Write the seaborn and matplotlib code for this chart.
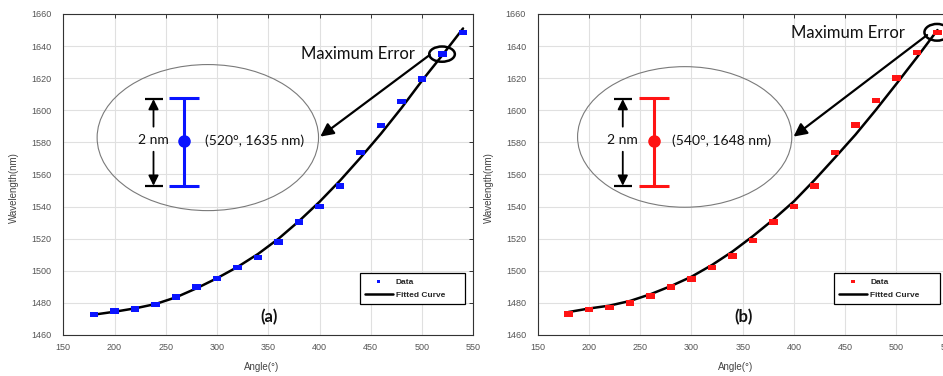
import numpy as np
import pandas as pd
import matplotlib
matplotlib.use("Agg")
import matplotlib.pyplot as plt
from matplotlib.patches import Ellipse
from matplotlib.markers import MarkerStyle
import seaborn as sns

# ---------------- data ----------------
angles = [180, 200, 220, 240, 260, 280, 300, 320, 340, 360,
          380, 400, 420, 440, 460, 480, 500, 520, 540]
wavelength_a = [1472.8, 1475.0, 1476.2, 1479.1, 1483.7, 1490.0, 1495.1, 1502.0, 1508.4, 1518.0,
                1530.4, 1540.0, 1552.8, 1573.6, 1590.4, 1605.4, 1619.6, 1635.2, 1648.4]
wavelength_b = [1473.0, 1476.0, 1477.0, 1480.0, 1484.2, 1490.0, 1495.0, 1502.0, 1509.2, 1519.0,
                1530.4, 1540.0, 1553.0, 1573.6, 1591.0, 1606.0, 1620.0, 1636.0, 1648.4]
fit_a = [1472.7, 1474.5, 1476.6, 1479.3, 1483.5, 1489.1, 1495.4, 1502.4, 1510.5, 1520.0,
         1531.0, 1543.0, 1556.2, 1570.5, 1585.5, 1601.5, 1618.5, 1634.5, 1651.0]
fit_b = [1474.3, 1476.5, 1478.3, 1481.2, 1485.4, 1490.5, 1496.3, 1503.6, 1512.0, 1521.6,
         1532.0, 1543.3, 1556.5, 1570.5, 1584.8, 1600.3, 1616.5, 1633.0, 1650.0]
x_ticks = [150, 200, 250, 300, 350, 400, 450, 500, 550]
y_ticks = [1460, 1480, 1500, 1520, 1540, 1560, 1580, 1600, 1620, 1640, 1660]
panel_labels = ["(a)", "(b)"]
point_texts = ["(520°, 1635 nm)", "(540°, 1648 nm)"]
colors = ["#0a14ff", "#ff1414"]

# ---------------- layout (annotation geometry, data coords) ----------------
layouts = [
    dict(ell=(291, 1583, 216, 91), ebx=268, arrx=238, txtx=288,
         circ=(519.5, 1635, 25, 9.5), me_x=382, me_y=1635,
         tail=(507.5, 1634.5), head=(400.7, 1583.6), lab=(350.4, 1471)),
    dict(ell=(293.4, 1583.4, 209, 87.6), ebx=263.6, arrx=233, txtx=281.5,
         circ=(539.6, 1648.6, 24.6, 10.4), me_x=397, me_y=1648,
         tail=(529.9, 1646.9), head=(399.6, 1583.6), lab=(350.8, 1471)),
]

sns.set_theme(style="white")
plt.rcParams['font.family'] = ['Liberation Sans', 'DejaVu Sans']
plt.rcParams['axes.unicode_minus'] = False

W, H = 943, 376
fig = plt.figure(figsize=(W / 100, H / 100), dpi=100)
fig.patch.set_facecolor("white")
axes = [fig.add_axes([63.3 / W, 41 / H, 410 / W, 321 / H]),
        fig.add_axes([537.7 / W, 41 / H, 410 / W, 321 / H])]

rect = MarkerStyle([(-1, -0.65), (1, -0.65), (1, 0.65), (-1, 0.65), (-1, -0.65)])
ann_font = ['Lato', 'DejaVu Sans']

for i, ax in enumerate(axes):
    wl = wavelength_a if i == 0 else wavelength_b
    fit = fit_a if i == 0 else fit_b
    col = colors[i]
    L = layouts[i]
    df = pd.DataFrame({"angle": angles, "wl": wl, "fit": fit})

    sns.lineplot(data=df, x="angle", y="fit", ax=ax, color="black", lw=1.8,
                 label="Fitted Curve", zorder=3)
    sns.scatterplot(data=df, x="angle", y="wl", ax=ax, marker=rect, s=38,
                    color=col, edgecolor="none", linewidth=0, label="Data", zorder=4)

    ax.set_xlim(150, 550)
    ax.set_ylim(1460, 1660)
    ax.set_xticks(x_ticks)
    ax.set_yticks(y_ticks)
    ax.grid(True, color="#e0e0e0", lw=0.8)
    ax.set_axisbelow(True)
    for s in ax.spines.values():
        s.set_visible(True)
        s.set_color("#333333")
        s.set_linewidth(0.8)
    ax.tick_params(direction="in", length=3, width=0.7, top=True, right=True,
                   labelsize=6.5, labelcolor="#555555", color="#333333")
    ax.tick_params(axis="x", pad=6)
    ax.tick_params(axis="y", pad=8.4)
    ax.set_xlabel("Angle(°)", fontsize=7, color="#444444")
    ax.set_ylabel("Wavelength(nm)", fontsize=7, color="#444444")
    ax.xaxis.set_label_coords(0.483, -0.084)
    ax.yaxis.set_label_coords(-0.107, 0.458)

    # legend
    h, l = ax.get_legend_handles_labels()
    order = [l.index("Data"), l.index("Fitted Curve")]
    leg = ax.legend([h[k] for k in order], [l[k] for k in order],
                    loc="lower left", bbox_to_anchor=(0.7225, 0.0965, 0.258, 0.108),
                    mode="expand", frameon=True, fancybox=False, framealpha=1,
                    edgecolor="black", prop=dict(weight="bold", size=6),
                    handlelength=3.4, handletextpad=0.35, borderpad=0.6,
                    labelspacing=0.65, markerscale=0.4, borderaxespad=0)
    leg.get_frame().set_linewidth(0.9)
    leg.set_zorder(6)

    # inset ellipse
    cx, cy, ew, eh = L["ell"]
    ax.add_patch(Ellipse((cx, cy), ew, eh, facecolor="none", edgecolor="#7a7a7a",
                         lw=0.8, zorder=5))
    # coloured error bar
    ax.errorbar([L["ebx"]], [1581], yerr=[[28], [26.5]], fmt="o", color=col, ms=8,
                elinewidth=2.2, capsize=10.7, capthick=2.2, zorder=6)
    # black double arrow with caps
    ax.errorbar([L["arrx"]], [1580], yerr=[[27], [27]], fmt="none", ecolor="black",
                elinewidth=0, capsize=6.8, capthick=1.6, zorder=6)
    for y0, y1 in [(1589.8, 1607.0), (1574.2, 1553.0)]:
        ax.annotate("", xy=(L["arrx"], y1), xytext=(L["arrx"], y0),
                    arrowprops=dict(arrowstyle="-|>,head_length=0.6,head_width=0.3",
                                    lw=1.3, color="black", shrinkA=0, shrinkB=0,
                                    mutation_scale=10), zorder=6)
    ax.text(L["arrx"], 1581.5, "2 nm", ha="center", va="center", fontsize=10,
            family=ann_font, color="#111111", zorder=7)
    ax.text(L["txtx"], 1581, point_texts[i], ha="left", va="center", fontsize=10,
            family=ann_font, color="#111111", zorder=7)

    # maximum error highlight
    mx, my, mw, mh = L["circ"]
    ax.add_patch(Ellipse((mx, my), mw, mh, facecolor="none", edgecolor="black",
                         lw=1.8, zorder=7))
    ax.text(L["me_x"], L["me_y"], "Maximum Error", ha="left", va="center",
            fontsize=12, family=ann_font, color="#111111", zorder=7)
    ax.annotate("", xy=L["head"], xytext=L["tail"],
                arrowprops=dict(arrowstyle="-|>,head_length=0.6,head_width=0.3",
                                lw=1.6, color="black", shrinkA=0, shrinkB=0,
                                mutation_scale=13), zorder=7)
    ax.text(L["lab"][0], L["lab"][1], panel_labels[i], ha="center", va="center",
            fontsize=12, fontweight="bold", family=ann_font, color="#111111", zorder=7)

fig.savefig("out.png", dpi=100)
